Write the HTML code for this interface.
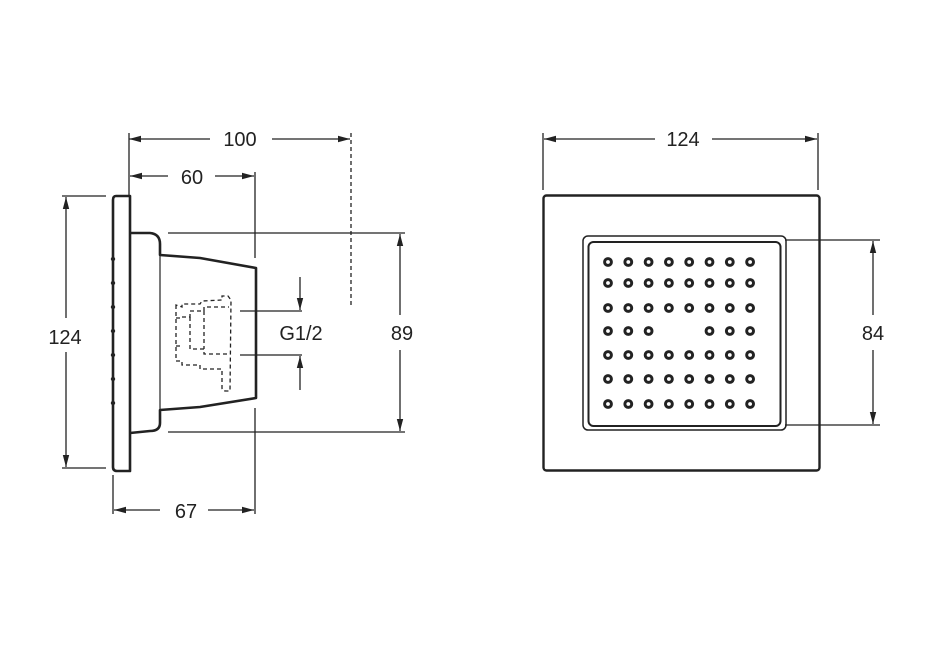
<!DOCTYPE html>
<html><head><meta charset="utf-8"><style>html,body{margin:0;padding:0;background:#fff}svg{display:block}</style></head>
<body>
<svg width="935" height="652" viewBox="0 0 935 652" xmlns="http://www.w3.org/2000/svg">
<defs>
<marker id="a" markerWidth="12" markerHeight="8" refX="12" refY="4" orient="auto" markerUnits="userSpaceOnUse"><path d="M0,0.8 L12,4 L0,7.2 Z" fill="#222"/></marker>
<g id="r"><circle cx="608" cy="0" r="3.4"/><circle cx="628.3" cy="0" r="3.4"/><circle cx="648.6" cy="0" r="3.4"/><circle cx="668.9" cy="0" r="3.4"/><circle cx="689.2" cy="0" r="3.4"/><circle cx="709.5" cy="0" r="3.4"/><circle cx="729.8" cy="0" r="3.4"/><circle cx="750.1" cy="0" r="3.4"/></g>
</defs>
<g font-family="Liberation Sans, sans-serif" font-size="20" fill="#222" text-anchor="middle">
<text x="240" y="146">100</text>
<text x="192" y="184">60</text>
<text x="65" y="344">124</text>
<text x="301" y="340">G1/2</text>
<text x="402" y="340">89</text>
<text x="186" y="518">67</text>
<text x="683" y="146">124</text>
<text x="873" y="340">84</text>
</g>
<g stroke="#222" stroke-width="1.3" fill="none">
<line x1="129" y1="133" x2="129" y2="195"/>
<line x1="210" y1="139" x2="129" y2="139" marker-end="url(#a)"/>
<line x1="272" y1="139" x2="350" y2="139" marker-end="url(#a)"/>
<line x1="351" y1="133" x2="351" y2="308" stroke-dasharray="4,3"/>
<line x1="168" y1="176" x2="130" y2="176" marker-end="url(#a)"/>
<line x1="215" y1="176" x2="254" y2="176" marker-end="url(#a)"/>
<line x1="255" y1="172" x2="255" y2="258"/>
<line x1="255" y1="408" x2="255" y2="514"/>
<line x1="62" y1="196" x2="106" y2="196"/>
<line x1="62" y1="468" x2="106" y2="468"/>
<line x1="66" y1="318" x2="66" y2="197" marker-end="url(#a)"/>
<line x1="66" y1="352" x2="66" y2="467" marker-end="url(#a)"/>
<line x1="113" y1="475" x2="113" y2="514"/>
<line x1="160" y1="510" x2="114" y2="510" marker-end="url(#a)"/>
<line x1="208" y1="510" x2="254" y2="510" marker-end="url(#a)"/>
<line x1="168" y1="233" x2="405" y2="233"/>
<line x1="168" y1="432" x2="405" y2="432"/>
<line x1="400" y1="315" x2="400" y2="234" marker-end="url(#a)"/>
<line x1="400" y1="350" x2="400" y2="431" marker-end="url(#a)"/>
<line x1="240" y1="311" x2="302" y2="311"/>
<line x1="240" y1="355" x2="302" y2="355"/>
<line x1="300" y1="277" x2="300" y2="310" marker-end="url(#a)"/>
<line x1="300" y1="390" x2="300" y2="356" marker-end="url(#a)"/>
<line x1="543" y1="133" x2="543" y2="190"/>
<line x1="818" y1="133" x2="818" y2="190"/>
<line x1="655" y1="139" x2="544" y2="139" marker-end="url(#a)"/>
<line x1="712" y1="139" x2="817" y2="139" marker-end="url(#a)"/>
<line x1="785" y1="240" x2="880" y2="240"/>
<line x1="785" y1="425" x2="880" y2="425"/>
<line x1="873" y1="315" x2="873" y2="241" marker-end="url(#a)"/>
<line x1="873" y1="350" x2="873" y2="424" marker-end="url(#a)"/>
</g>
<g stroke="#222" stroke-width="2.6" fill="none" stroke-linejoin="round">
<path d="M116,196 L130,196 L130,471 L117,471 Q113,471 113,467 L113,200 Q113,196 116,196 Z"/>
<path d="M130,233 L150,233 Q160,234 160,244 L160,255 L200,258 L256,268 L256,398 L200,407 L160,410 L160,423 Q160,431 150,431 L130,433"/>
</g>
<line x1="160" y1="255" x2="160" y2="410" stroke="#222" stroke-width="1.2"/>
<g fill="#222">
<circle cx="113" cy="259" r="2.2"/><circle cx="113" cy="283" r="2.2"/><circle cx="113" cy="307" r="2.2"/><circle cx="113" cy="331" r="2.2"/><circle cx="113" cy="355" r="2.2"/><circle cx="113" cy="379" r="2.2"/><circle cx="113" cy="403" r="2.2"/>
</g>
<g stroke="#222" stroke-width="1.3" fill="none" stroke-dasharray="4,3">
<path d="M176,305 L176,361 L182,361 L182,365 L200,365 L200,369 L222,369 L222,388 Q222,391 226,391 L230,391 L231,300 L228,296 L222,296 L222,300 L202,301 L200,304 L182,304 L182,307 Z"/>
<path d="M182,317 L190,317 L190,311 L204,311 L204,307 L229,307"/>
<path d="M190,317 L190,349 L204,349 L204,354 L229,354"/>
<path d="M204,311 L204,349"/>
<path d="M176,318 L182,318 M176,346 L182,346"/>
</g>
<rect x="543.5" y="195.5" width="276" height="275" rx="3" fill="none" stroke="#222" stroke-width="2.4"/>
<rect x="583" y="236" width="203" height="194" rx="5" fill="none" stroke="#222" stroke-width="1.5"/>
<rect x="588.5" y="242" width="192" height="184" rx="5" fill="none" stroke="#222" stroke-width="2"/>
<g fill="#fff" stroke="#222" stroke-width="3">
<use href="#r" y="262"/><use href="#r" y="283"/><use href="#r" y="308"/><use href="#r" y="355"/><use href="#r" y="379"/><use href="#r" y="404"/>
<circle cx="608" cy="331" r="3.4"/><circle cx="628.3" cy="331" r="3.4"/><circle cx="648.6" cy="331" r="3.4"/><circle cx="709.5" cy="331" r="3.4"/><circle cx="729.8" cy="331" r="3.4"/><circle cx="750.1" cy="331" r="3.4"/>
</g>
</svg>
</body></html>
